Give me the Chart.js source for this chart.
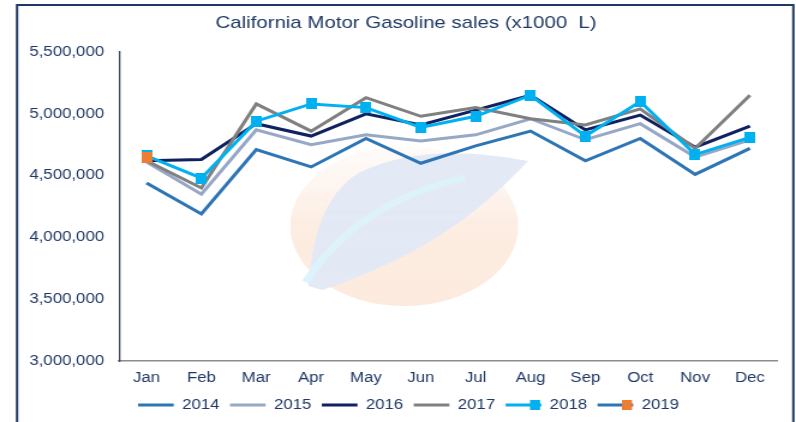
<!DOCTYPE html>
<html>
<head>
<meta charset="utf-8">
<script src="https://cdn.jsdelivr.net/npm/chart.js@4.4.1/dist/chart.umd.min.js"></script>
<style>
  html, body { margin: 0; padding: 0; background: #fff; overflow: hidden; }
  #wrap { width: 796px; height: 422px; position: relative; overflow: hidden; }
  /* the source picture is stretched wide, so stretch the canvas the same way */
  #sales { position: absolute; left: 0; top: 0; transform: scaleX(1.2006); transform-origin: 0 0; }
</style>
</head>
<body>
<div id="wrap"><canvas id="sales" width="663" height="422"></canvas></div>
<script>
// monthly sales, x1000 L
const months = ['Jan', 'Feb', 'Mar', 'Apr', 'May', 'Jun', 'Jul', 'Aug', 'Sep', 'Oct', 'Nov', 'Dec'];
const sales2014 = [4440000, 4190000, 4710000, 4570000, 4800000, 4600000, 4740000, 4860000, 4620000, 4800000, 4510000, 4720000];
const sales2015 = [4610000, 4350000, 4870000, 4750000, 4830000, 4780000, 4830000, 4960000, 4790000, 4920000, 4650000, 4790000];
const sales2016 = [4620000, 4630000, 4920000, 4820000, 5000000, 4910000, 5030000, 5150000, 4870000, 4990000, 4730000, 4900000];
const sales2017 = [4620000, 4400000, 5080000, 4860000, 5130000, 4980000, 5050000, 4960000, 4910000, 5040000, 4720000, 5150000];
const sales2018 = [4660000, 4480000, 4940000, 5080000, 5050000, 4890000, 4980000, 5150000, 4820000, 5100000, 4670000, 4810000];
const sales2019 = [4650000];
const yTicks = [3000000, 3500000, 4000000, 4500000, 5000000, 5500000];

const textColor = '#1F3864';
const legendShift = 9.5;
const titleShift = 7.5;

// square marker, a bit narrower since the canvas gets stretched
function marker(color) {
    const m = document.createElement('canvas');
    m.width = 9;
    m.height = 11;
    const g = m.getContext('2d');
    g.fillStyle = color;
    g.fillRect(0, 0, 9, 11);
    return m;
}

// frame + faint logo behind the lines, legend/title nudge, legend markers
const decor = {
    id: 'decor',
    afterLayout(chart) {
        chart.legend.left += legendShift;
        chart.legend.right += legendShift;
        chart.titleBlock.left += titleShift;
        chart.titleBlock.right += titleShift;
    },
    beforeDatasetsDraw(chart) {
        const c = chart.ctx;
        c.save();
        const g = c.createLinearGradient(0, 145, 0, 306);
        g.addColorStop(0, 'rgba(253,238,228,0.2)');
        g.addColorStop(0.5, 'rgba(252,231,216,0.75)');
        g.addColorStop(1, 'rgba(252,232,218,0.9)');
        c.fillStyle = g;
        c.beginPath();
        c.ellipse(336.7, 226, 95, 80, 0, 0, Math.PI * 2);
        c.fill();
        // leaf
        c.fillStyle = 'rgba(226,233,246,0.95)';
        c.beginPath();
        c.moveTo(256.7, 286);
        c.bezierCurveTo(260, 240, 268.3, 195, 300, 172);
        c.bezierCurveTo(341.7, 148, 391.7, 150, 440, 161);
        c.bezierCurveTo(408.3, 200, 366.7, 250, 268.3, 290);
        c.closePath();
        c.fill();
        c.strokeStyle = 'rgba(220,243,252,0.95)';
        c.lineWidth = 6;
        c.beginPath();
        c.moveTo(254.2, 282);
        c.quadraticCurveTo(300, 200, 387.5, 178);
        c.stroke();
        c.restore();
    },
    afterDraw(chart) {
        const c = chart.ctx;
        c.save();
        c.strokeStyle = '#1F3864';
        c.lineWidth = 2;
        c.strokeRect(14.2, 5, 646.6, 440);
        const boxes = chart.legend.legendHitBoxes;
        const marks = [[4, '#00B0F0'], [5, '#ED7D31']];
        marks.forEach(([i, col]) => {
            const b = boxes[i];
            if (!b) return;
            const cx = b.left + legendShift + 15, cy = b.top + b.height / 2;
            c.fillStyle = col;
            c.fillRect(cx - 4.2, cy - 5, 8.4, 10);
        });
        c.restore();
    }
};

function line(label, data, color, order, extra) {
    return Object.assign({
        label: label,
        data: data,
        borderColor: color,
        backgroundColor: color,
        borderWidth: 3,
        pointRadius: 0,
        pointHoverRadius: 0,
        tension: 0,
        order: order
    }, extra || {});
}

new Chart(document.getElementById('sales'), {
    type: 'line',
    data: {
        labels: months,
        datasets: [
            line('2014', sales2014, '#2E75B6', 6),
            line('2015', sales2015, '#96A8C6', 5),
            line('2016', sales2016, '#0F2160', 4),
            line('2017', sales2017, '#808080', 3),
            line('2018', sales2018, '#00B0F0', 2, {
                pointStyle: marker('#00B0F0'), pointRadius: 6
            }),
            line('2019', sales2019, '#2E75B6', 1, {
                pointStyle: marker('#ED7D31'), pointRadius: 6
            })
        ]
    },
    options: {
        responsive: false,
        animation: false,
        layout: {
            padding: { left: 14, right: 15.5, top: 0, bottom: 0 }
        },
        plugins: {
            title: {
                display: true,
                text: 'California Motor Gasoline sales (x1000  L)',
                color: textColor,
                font: { family: 'Liberation Sans', size: 17, weight: 'normal' },
                padding: { top: 13, bottom: 18.6 }
            },
            legend: {
                position: 'bottom',
                labels: {
                    color: textColor,
                    font: { family: 'Liberation Sans', size: 14 },
                    boxWidth: 29.7,
                    boxHeight: 3,
                    padding: 8.7,
                    generateLabels(chart) {
                        return chart.data.datasets.map((ds, i) => ({
                            text: ds.label,
                            fillStyle: ds.borderColor,
                            strokeStyle: ds.borderColor,
                            lineWidth: 0,
                            fontColor: textColor,
                            hidden: false,
                            datasetIndex: i
                        }));
                    }
                }
            },
            tooltip: { enabled: false }
        },
        scales: {
            x: {
                offset: true,
                afterFit(scale) {
                    scale.height = 28.3;
                },
                grid: { display: false, drawTicks: false, offset: true },
                border: { display: true, color: '#8C8C8C', width: 1.5 },
                ticks: {
                    color: textColor,
                    font: { family: 'Liberation Sans', size: 14 },
                    padding: 9
                }
            },
            y: {
                min: yTicks[0],
                max: yTicks[yTicks.length - 1],
                afterBuildTicks(scale) {
                    scale.ticks = yTicks.map(v => ({ value: v }));
                },
                afterFit(scale) {
                    scale.width = 85.2;
                },
                grid: { display: false, drawTicks: false },
                border: { display: true, color: '#404A5E', width: 1.3 },
                ticks: {
                    color: textColor,
                    font: { family: 'Liberation Sans', size: 14 },
                    padding: 12.5,
                    callback: v => v.toLocaleString('en-US')
                }
            }
        }
    },
    plugins: [decor]
});
</script>
</body>
</html>
